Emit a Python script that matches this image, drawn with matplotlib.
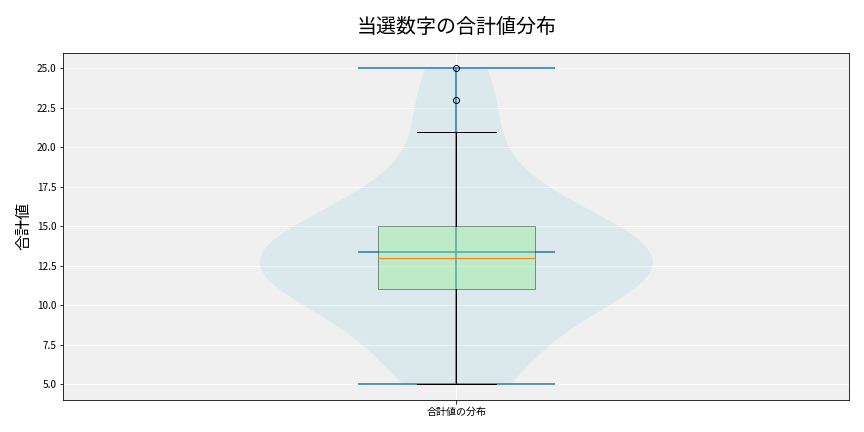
import matplotlib.pyplot as plt

plt.rcParams['font.family'] = ['Noto Sans CJK JP', 'DejaVu Sans']

totals = [5, 6, 7, 8, 10,
          11, 11, 11, 12, 12, 12,
          13, 13, 13, 14, 14,
          15, 15, 15, 17, 18, 21, 23, 25]
title = '当選数字の合計値分布'
y_label = '合計値'
tick_labels = ['合計値の分布']


def plot_distribution(values):
    fig, ax = plt.subplots(figsize=(12, 6), dpi=72)
    fig.subplots_adjust(left=0.0733, right=0.983, top=0.878, bottom=0.0741)
    ax.set_facecolor('#f0f0f0')

    # violin first, box plot on top
    vp = ax.violinplot(values, showmeans=True, showextrema=True)
    for body in vp['bodies']:
        body.set_facecolor('lightblue')
        body.set_edgecolor('none')
        body.set_alpha(0.3)

    bp = ax.boxplot(values, widths=0.2, patch_artist=True)
    for box in bp['boxes']:
        box.set_facecolor('lightgreen')
        box.set_alpha(0.4)

    ax.set_xticks([1], tick_labels)
    ax.set_title(title, fontsize=20, pad=20)
    ax.set_ylabel(y_label, fontsize=16)
    ax.grid(True, color='white', linewidth=1)
    ax.set_axisbelow(True)

    fig.savefig('out.png', dpi=72)


if __name__ == '__main__':
    plot_distribution(totals)
